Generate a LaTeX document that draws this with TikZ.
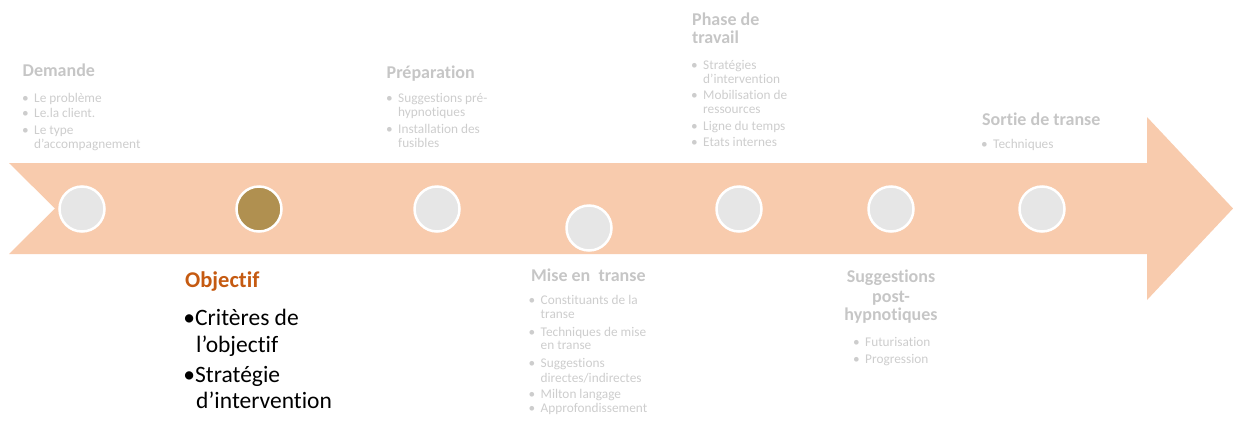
\documentclass[tikz,border=0pt]{standalone}
\usepackage{fontspec}
\setmainfont{Carlito}[Ligatures=CommonOff]
\definecolor{band}{HTML}{F8CBAD}
\definecolor{circgrey}{HTML}{E6E6E6}
\definecolor{gold}{HTML}{B09050}
\definecolor{titlegrey}{HTML}{C6C6C6}
\definecolor{bodygrey}{HTML}{CDCDCD}
\definecolor{objorange}{HTML}{C55A11}
\newcommand{\bi}[1]{\llap{\textbullet\hspace{5.5pt}}#1}
\newcommand{\bk}[1]{\llap{\textbullet}#1}
\begin{document}
\begin{tikzpicture}[x=1pt,y=-1pt,
  dot/.style={circle, minimum size=45pt, inner sep=0pt, fill=circgrey, draw=white, line width=2.5pt},
  ttl/.style={anchor=base west, inner sep=0pt, font=\fontsize{18}{20}\selectfont\bfseries, text=titlegrey},
  ttlc/.style={anchor=base, inner sep=0pt, font=\fontsize{18}{20}\selectfont\bfseries, text=titlegrey},
  body/.style={anchor=base west, inner sep=0pt, font=\fontsize{13.3}{14}\selectfont, text=bodygrey},
  objt/.style={anchor=base west, inner sep=0pt, font=\fontsize{22.5}{26}\selectfont\bfseries, text=objorange},
  objb/.style={anchor=base west, inner sep=0pt, font=\fontsize{23.5}{26}\selectfont, text=black}]
\useasboundingbox (0,0) rectangle (1233,421);
% arrow band
\fill[band] (9,163) -- (1147,163) -- (1147,117) -- (1233,208.5) -- (1147,300)
  -- (1147,254) -- (9,254) -- (55,208.5) -- cycle;
% circles
\node[dot] (c1) at (82,209) {};
\node[dot, fill=gold] (c2) at (259,209) {};
\node[dot] (c3) at (437,209) {};
\node[dot] (c4) at (589,228) {};
\node[dot] (c5) at (739,209) {};
\node[dot] (c6) at (891,209) {};
\node[dot] (c7) at (1042,209) {};
% Demande
\node[ttl] (demT) at (22.5,76) {Demande};
\foreach \t/\y [count=\i] in {{\bi{Le problème}}/102,{\bi{Le.la client.}}/117.5,{\bi{Le type}}/134,{d’accompagnement}/148}
  \node[body] (dem\i) at (34,\y) {\t};
% Preparation
\node[ttl] (prepT) at (386.5,78) {Préparation};
\foreach \t/\y [count=\i] in {{\bi{Suggestions pré-}}/102,{hypnotiques}/116,{\bi{Installation des}}/133,{fusibles}/147}
  \node[body] (prep\i) at (398,\y) {\t};
% Phase de travail
\node[ttl] (phT1) at (692,25) {Phase de};
\node[ttl] (phT2) at (692,43) {travail};
\foreach \t/\y [count=\i] in {{\bi{Stratégies}}/69,{d’intervention}/83,{\bi{Mobilisation de}}/99.5,{ressources}/113.5,{\bi{Ligne du temps}}/130,{\bi{Etats internes}}/146.5}
  \node[body] (ph\i) at (703,\y) {\t};
% Sortie de transe
\node[ttl] (soT) at (982,125) {Sortie de transe};
\node[body] (so1) at (993,148) {\bi{Techniques}};
% Objectif
\node[objt] (objT) at (185,287) {Objectif};
\node[objb] (obj1) at (195,325) {\bk{Critères de}};
\node[objb] (obj2) at (196,352) {l’objectif};
\node[objb] (obj3) at (195,382) {\bk{Stratégie}};
\node[objb] (obj4) at (196,408) {d’intervention};
% Mise en transe
\node[ttl] (miT) at (531,281) {Mise en\ \ transe};
\foreach \t/\y [count=\i] in {{\bi{Constituants de la}}/304,{transe}/318,{\bi{Techniques de mise}}/336,{en transe}/349.5,{\bi{Suggestions}}/367,{directes/indirectes}/382,{\bi{Milton langage}}/398,{\bi{Approfondissement}}/412.5}
  \node[body] (mi\i) at (540.5,\y) {\t};
% Suggestions post-hypnotiques
\node[ttlc] (spT1) at (891,282) {Suggestions};
\node[ttlc] (spT2) at (891,302) {post-};
\node[ttlc] (spT3) at (891,320) {hypnotiques};
\node[body] (sp1) at (865,346) {\bi{Futurisation}};
\node[body] (sp2) at (865,363) {\bi{Progression}};
\end{tikzpicture}
\end{document}
